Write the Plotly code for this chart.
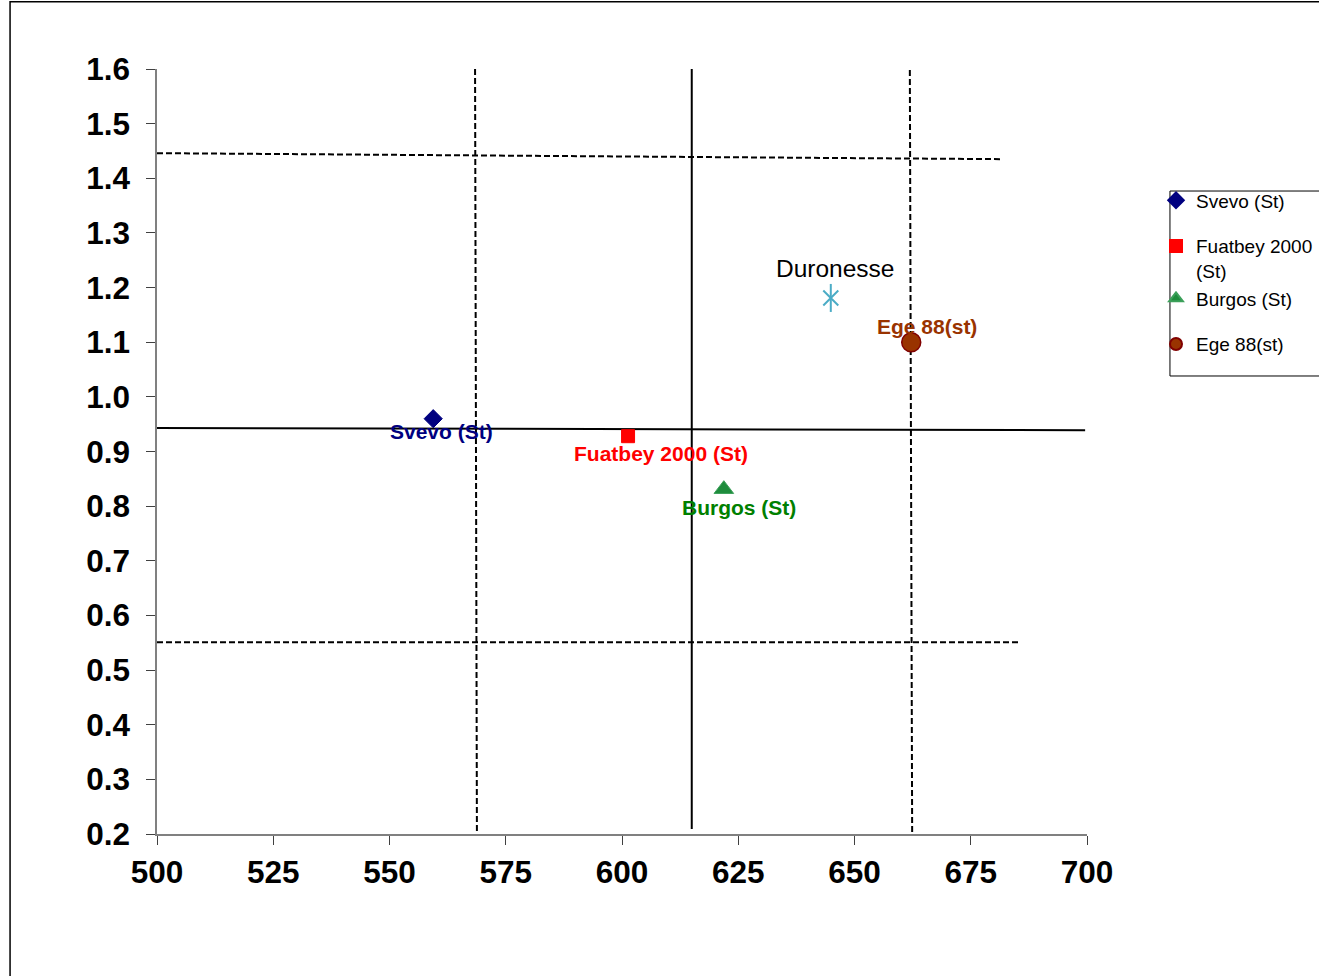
import plotly.graph_objects as go

# ---- data ----
variety_names = ["Svevo (St)", "Fuatbey 2000 (St)", "Burgos (St)", "Ege 88(st)"]
legend_names = ["Svevo (St)", "Fuatbey 2000<br>(St)", "Burgos (St)", "Ege 88(st)"]
legend_groups = ["g1", "g2", "g2", "g3"]
variety_x = [559.4, 601.3, 621.9, 662.2]
variety_y = [0.960, 0.928, 0.831, 1.100]

other_name = "Duronesse"
other_x = [644.9]
other_y = [1.181]

# reference lines (x pairs / y pairs)
hline_solid_x = [500, 699.6]
hline_solid_y = [0.943, 0.939]
hline_upper_x = [500, 681.3]
hline_upper_y = [1.446, 1.435]
hline_lower_x = [500, 685.2]
hline_lower_y = [0.551, 0.551]
vline_solid_x = [615.0, 615.0]
vline_solid_y = [1.605, 0.209]
vline_left_x = [568.4, 568.8]
vline_left_y = [1.600, 0.200]
vline_right_x = [661.9, 662.4]
vline_right_y = [1.598, 0.200]

x_ticks = [500, 525, 550, 575, 600, 625, 650, 675, 700]
y_ticks = [0.2, 0.3, 0.4, 0.5, 0.6, 0.7, 0.8, 0.9, 1.0, 1.1, 1.2, 1.3, 1.4, 1.5, 1.6]

# ---- styles ----
FONT = "Arial, Liberation Sans, sans-serif"
marker_styles = [
    dict(symbol="diamond", size=14, color="#000080", line=dict(color="#000080", width=1)),
    dict(symbol="square", size=13, color="#FF0000", line=dict(color="#FF0000", width=1)),
    dict(symbol="triangle-up", size=17, color="#1E8C3C", line=dict(color="#3CA05A", width=1)),
    dict(symbol="circle", size=19, color="#993300", line=dict(color="#800000", width=1.5)),
]
label_colors = ["#000080", "#FF0000", "#008000", "#993300"]
label_shift = [(8, -13), (33, -17), (15, -18), (16, 16)]

fig = go.Figure()

# reference lines
dash = "6px,3px"
for lx, ly, d in [
    (hline_solid_x, hline_solid_y, "solid"),
    (hline_upper_x, hline_upper_y, dash),
    (hline_lower_x, hline_lower_y, dash),
    (vline_solid_x, vline_solid_y, "solid"),
    (vline_left_x, vline_left_y, dash),
    (vline_right_x, vline_right_y, dash),
]:
    fig.add_trace(go.Scatter(x=lx, y=ly, mode="lines", showlegend=False,
                             hoverinfo="skip",
                             line=dict(color="black", width=2, dash=d)))

# varieties
for i in range(len(variety_names)):
    fig.add_trace(go.Scatter(x=[variety_x[i]], y=[variety_y[i]], mode="markers",
                             name=legend_names[i], legendgroup=legend_groups[i],
                             marker=marker_styles[i], cliponaxis=False))
    fig.add_annotation(x=variety_x[i], y=variety_y[i], text="<b>%s</b>" % variety_names[i],
                       showarrow=False, xshift=label_shift[i][0], yshift=label_shift[i][1],
                       font=dict(family=FONT, size=21, color=label_colors[i]))

# Duronesse (6-spoke star)
star_color = "#4BACC6"
fig.add_trace(go.Scatter(x=other_x, y=other_y, mode="markers", showlegend=False,
                         marker=dict(symbol="x-thin-open", size=15, color=star_color,
                                     line=dict(color=star_color, width=2))))
fig.add_trace(go.Scatter(x=other_x, y=other_y, mode="markers", showlegend=False,
                         marker=dict(symbol="line-ns-open", size=20, color=star_color,
                                     line=dict(color=star_color, width=2))))
fig.add_annotation(x=other_x[0], y=other_y[0], text=other_name, showarrow=False,
                   xshift=4, yshift=29, font=dict(family=FONT, size=24.5, color="black"))

# outer chart border and legend box
fig.add_shape(type="rect", xref="paper", yref="paper", x0=-0.158, x1=1.5,
              y0=-0.5, y1=1.0878, line=dict(color="black", width=1.5),
              fillcolor="rgba(0,0,0,0)", layer="below")
fig.add_shape(type="rect", xref="paper", yref="paper", x0=1.0892, x1=1.6,
              y0=0.5987, y1=0.8405, line=dict(color="black", width=1),
              fillcolor="white", layer="below")

def axis_common(standoff):
    return dict(showgrid=False, zeroline=False, showline=True, linecolor="#808080",
                linewidth=1.5, ticks="outside", ticklen=9, tickcolor="#404040",
                tickwidth=1, ticklabelstandoff=standoff,
                tickfont=dict(family=FONT, size=31.5, color="black", weight="bold"))

fig.update_layout(
    width=1319, height=976,
    paper_bgcolor="white", plot_bgcolor="white",
    margin=dict(l=157, r=232, t=69, b=142, autoexpand=False),
    xaxis=dict(range=[500, 700], tickvals=x_ticks, ticktext=[str(v) for v in x_ticks],
               **axis_common(0)),
    yaxis=dict(range=[0.2, 1.6], tickvals=y_ticks, ticktext=["%.1f" % v for v in y_ticks],
               **axis_common(10)),
    legend=dict(x=1.0742, xanchor="left", y=0.8531, yanchor="top",
                bgcolor="rgba(0,0,0,0)", borderwidth=0, valign="top",
                font=dict(family=FONT, size=19, color="black"),
                tracegroupgap=18, itemsizing="constant"),
    showlegend=True,
)

fig.write_html("out.html", config={"displayModeBar": False},
               post_script="document.body.style.margin='0px';")
